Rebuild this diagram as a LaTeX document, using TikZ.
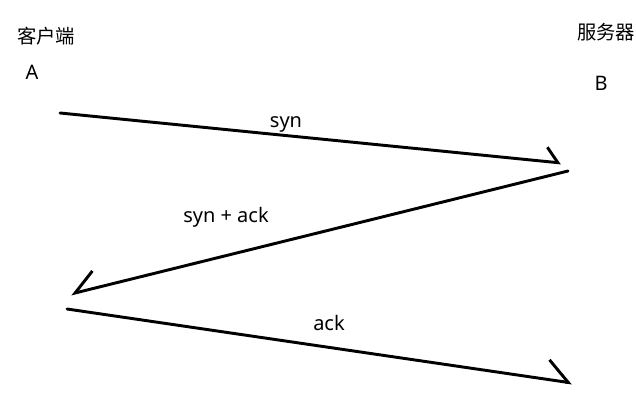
\documentclass[tikz,border=0pt]{standalone}
\usepackage{fontspec}
\setmainfont{Noto Sans}
\newfontfamily\cjk{Noto Sans CJK SC}
\usetikzlibrary{arrows.meta}
\tikzset{
  msg/.style={line width=2.2pt, line cap=round, -{Straight Barb[harpoon, angle=#1]}},
  msg/.default=100:14pt,
  msgswap/.style={line width=2.2pt, line cap=round, -{Straight Barb[harpoon, swap, angle=#1]}},
  msgswap/.default=76:21pt,
  lbl/.style={font=\fontsize{15}{18}\selectfont, inner sep=0pt, anchor=base},
  side/.style={font=\cjk\fontsize{14.5}{17}\selectfont, inner sep=0pt}
}
\begin{document}
\begin{tikzpicture}[x=0.75pt, y=-0.75pt]
  \useasboundingbox (0,0) rectangle (636,402);
  \coordinate (a1) at (60,113);
  \coordinate (b1) at (561,163);
  \coordinate (b2) at (568,171);
  \coordinate (a2) at (71,294);
  \coordinate (a3) at (67,309);
  \coordinate (b3) at (572,383);
  \node[side] (client) at (46,36) {客户端};
  \node[lbl] (hostA) at (32,80) {A};
  \node[side] (server) at (606,32) {服务器};
  \node[lbl] (hostB) at (601,91) {B};
  \draw[msg] (a1) -- (b1);
  \draw[msgswap] (b2) -- (a2);
  \draw[msg=84:22pt] (a3) -- (b3);
  \node[lbl] (syn) at (286,128) {syn};
  \node[lbl] (synack) at (226,223) {syn + ack};
  \node[lbl] (ack) at (329,331) {ack};
\end{tikzpicture}
\end{document}
